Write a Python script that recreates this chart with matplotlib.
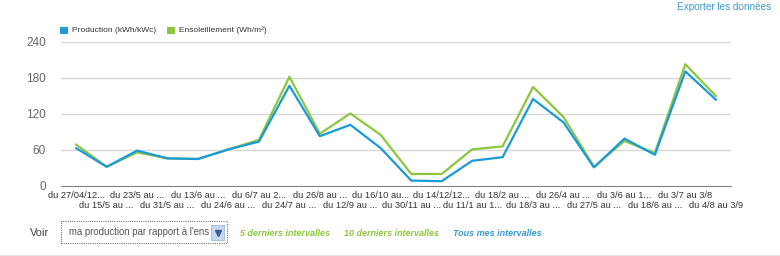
import numpy as np
import matplotlib.pyplot as plt
from matplotlib.patches import Rectangle

plt.rcParams['font.family'] = ['Liberation Sans', 'DejaVu Sans']

# données
periodes = ["du 27/04/12...", "du 15/5 au ...", "du 23/5 au ...", "du 31/5 au ...",
            "du 13/6 au ...", "du 24/6 au ...", "du 6/7 au 2...", "du 24/7 au ...",
            "du 26/8 au ...", "du 12/9 au ...", "du 16/10 au...", "du 30/11 au ...",
            "du 14/12/12...", "du 11/1 au 1...", "du 18/2 au ...", "du 18/3 au ...",
            "du 26/4 au ...", "du 27/5 au ...", "du 3/6 au 1...", "du 18/6 au ...",
            "du 3/7 au 3/8", "du 4/8 au 3/9"]
production = [63, 32, 59, 46, 45, 61, 74, 167, 83, 102, 63, 9,
              8, 42, 48, 145, 106, 31, 79, 52, 191, 144]
ensoleillement = [69, 32, 56, 46, 45, 61, 77, 182, 87, 121, 85, 20,
                  20, 61, 66, 165, 115, 32, 75, 55, 203, 150]
yticks = [0, 60, 120, 180, 240]

BLEU = "#1a9ad6"
VERT = "#8cc63f"
GRIS = "#666666"

W, H = 780, 256
fig = plt.figure(figsize=(W / 100, H / 100), dpi=100)
ax = fig.add_axes([61 / W, 70 / H, 670 / W, 144 / H])

x = np.arange(len(periodes))
ax.plot(x, ensoleillement, color=VERT, lw=1.6, zorder=3)
ax.plot(x, production, color=BLEU, lw=1.6, zorder=4)

ax.set_xlim(-0.5, len(periodes) - 0.5)
ax.set_ylim(0, 240)
ax.set_yticks(yticks)
ax.set_yticklabels([str(v) for v in yticks], fontsize=8.5, color=GRIS)
for v in yticks[1:]:
    ax.axhline(v, color="#d8d8d8", lw=1, zorder=1)
for s in ["top", "right", "left"]:
    ax.spines[s].set_visible(False)
ax.spines["bottom"].set_color("#808080")
ax.tick_params(axis="both", length=0)
ax.tick_params(axis="y", pad=11)

# étiquettes de l'axe x sur deux rangées
ax.set_xticks(x)
ax.set_xticklabels([])
for i, lab in enumerate(periodes):
    ypos = -0.065 if i % 2 == 0 else -0.135
    ax.text(i, ypos, lab, transform=ax.get_xaxis_transform(), ha="center",
            va="center", fontsize=6.7, color="#333333")

# légende
fig.patches.append(Rectangle((60 / W, 1 - 34 / H), 8 / W, 7 / H, transform=fig.transFigure,
                             facecolor=BLEU, edgecolor="none"))
fig.text(72 / W, 1 - 30.5 / H, "Production (kWh/kWc)", fontsize=6.0, color="#333333", va="center")
fig.patches.append(Rectangle((167 / W, 1 - 34 / H), 8 / W, 7 / H, transform=fig.transFigure,
                             facecolor=VERT, edgecolor="none"))
fig.text(179 / W, 1 - 30.5 / H, "Ensoleillement (Wh/m²)", fontsize=6.0, color="#333333", va="center")

fig.text(771 / W, 1 - 7 / H, "Exporter les données", fontsize=7.2, color="#3a9ad2",
         ha="right", va="center")

# zone du bas
fig.text(30 / W, 1 - 233 / H, "Voir", fontsize=8, color="#444444", va="center")
fig.patches.append(Rectangle((61 / W, 1 - 243 / H), 166 / W, 22 / H, transform=fig.transFigure,
                             facecolor="white", edgecolor="#777777", lw=0.8, ls=(0, (1, 1))))
fig.text(69 / W, 1 - 232 / H, "ma production par rapport à l'ens", fontsize=6.9,
         color="#555555", va="center")
fig.patches.append(Rectangle((211 / W, 1 - 240 / H), 13 / W, 15 / H, transform=fig.transFigure,
                             facecolor="#c5d7f2", edgecolor="#9fb8e0", lw=0.6, zorder=5))
fig.add_artist(plt.Line2D([217.5 / W], [1 - 232.5 / H], transform=fig.transFigure, marker="v",
                          markersize=4, color="#3b5b99", zorder=6))
fig.text(240 / W, 1 - 233 / H, "5 derniers intervalles", fontsize=6.5, color=VERT,
         style="italic", fontweight="bold", va="center")
fig.text(344 / W, 1 - 233 / H, "10 derniers intervalles", fontsize=6.5, color=VERT,
         style="italic", fontweight="bold", va="center")
fig.text(453 / W, 1 - 233 / H, "Tous mes intervalles", fontsize=6.5, color="#3a9ad2",
         style="italic", fontweight="bold", va="center")
fig.add_artist(plt.Line2D([0, 1], [1 - 254.5 / H, 1 - 254.5 / H], transform=fig.transFigure,
                          color="#e6e6e6", lw=1))

fig.savefig("out.png", dpi=100)
